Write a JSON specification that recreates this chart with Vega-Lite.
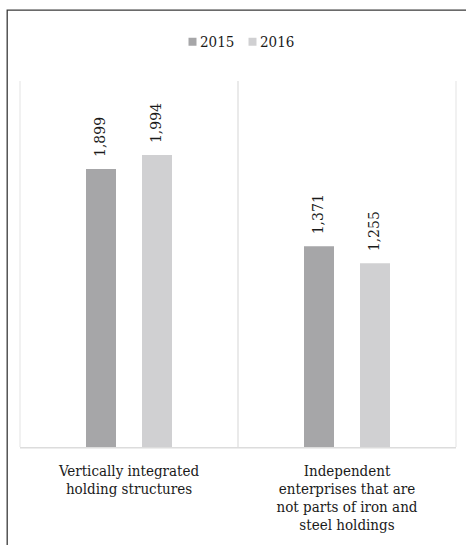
{
  "$schema": "https://vega.github.io/schema/vega-lite/v6.json",
  "autosize": "none",
  "padding": {"left": 7, "top": 10, "right": -2, "bottom": -2},
  "width": 461,
  "height": 537,
  "background": "white",
  "config": {
    "view": {"stroke": "#3a3a3a", "strokeWidth": 1.3}
  },
  "data": {
    "values": [
      {"category": "Vertically integrated\nholding structures", "year": "2015", "value": 1899},
      {"category": "Vertically integrated\nholding structures", "year": "2016", "value": 1994},
      {"category": "Independent\nenterprises that are\nnot parts of iron and\nsteel holdings", "year": "2015", "value": 1371},
      {"category": "Independent\nenterprises that are\nnot parts of iron and\nsteel holdings", "year": "2016", "value": 1255}
    ]
  },
  "encoding": {
    "x": {
      "field": "category",
      "type": "nominal",
      "sort": null,
      "scale": {"paddingInner": 0, "paddingOuter": 0.05734, "align": 0.52},
      "axis": null
    }
  },
  "layer": [
    {
      "mark": {"type": "bar", "width": 30},
      "encoding": {
        "xOffset": {"field": "year", "type": "nominal", "scale": {"paddingInner": 0.107, "paddingOuter": 1}},
        "y": {"field": "value", "type": "quantitative", "scale": {"domain": [0, 2500], "range": [437, 71], "nice": false, "zero": true}, "axis": null},
        "color": {
          "field": "year",
          "type": "nominal",
          "scale": {"domain": ["2015", "2016"], "range": ["#a6a6a8", "#d0d0d2"]},
          "legend": {
            "title": null,
            "orient": "none",
            "direction": "horizontal",
            "legendX": 178,
            "legendY": 24,
            "padding": 0,
            "symbolType": "square",
            "symbolSize": 64,
            "symbolStrokeWidth": 0,
            "symbolOpacity": 1,
            "labelFont": "DejaVu Serif Condensed",
            "labelFontSize": 15,
            "labelColor": "#1a1a1a",
            "labelOffset": 0,
            "columnPadding": 10
          }
        }
      }
    },
    {
      "mark": {"type": "text", "angle": 270, "align": "left", "baseline": "middle", "dx": 12, "font": "DejaVu Serif", "fontSize": 14, "color": "#1a1a1a"},
      "encoding": {
        "xOffset": {"field": "year", "type": "nominal"},
        "y": {"field": "value", "type": "quantitative"},
        "text": {"field": "value", "type": "quantitative", "format": ","}
      }
    },
    {
      "transform": [{"filter": "datum.year == '2015'"}],
      "mark": {"type": "rule", "color": "#e3e3e3", "strokeWidth": 1},
      "encoding": {
        "x": {"field": "category", "type": "nominal", "sort": null, "bandPosition": 0},
        "y": {"datum": 0, "type": "quantitative"},
        "y2": {"datum": 2500}
      }
    },
    {
      "transform": [{"filter": "datum.year == '2015'"}],
      "mark": {"type": "rule", "color": "#e3e3e3", "strokeWidth": 1},
      "encoding": {
        "x": {"field": "category", "type": "nominal", "sort": null, "bandPosition": 1},
        "y": {"datum": 0, "type": "quantitative"},
        "y2": {"datum": 2500}
      }
    },
    {
      "transform": [{"filter": "datum.year == '2015'"}],
      "mark": {"type": "bar", "color": "#dcdcdc"},
      "encoding": {
        "y": {"datum": 0, "type": "quantitative"},
        "y2": {"datum": -11}
      }
    },
    {
      "transform": [{"filter": "datum.year == '2015'"}],
      "mark": {"type": "text", "align": "center", "baseline": "top", "dy": 17, "lineBreak": "\n", "lineHeight": 18, "font": "DejaVu Serif Condensed", "fontSize": 15, "color": "#1a1a1a"},
      "encoding": {
        "y": {"datum": 0, "type": "quantitative"},
        "text": {"field": "category", "type": "nominal"}
      }
    }
  ]
}
